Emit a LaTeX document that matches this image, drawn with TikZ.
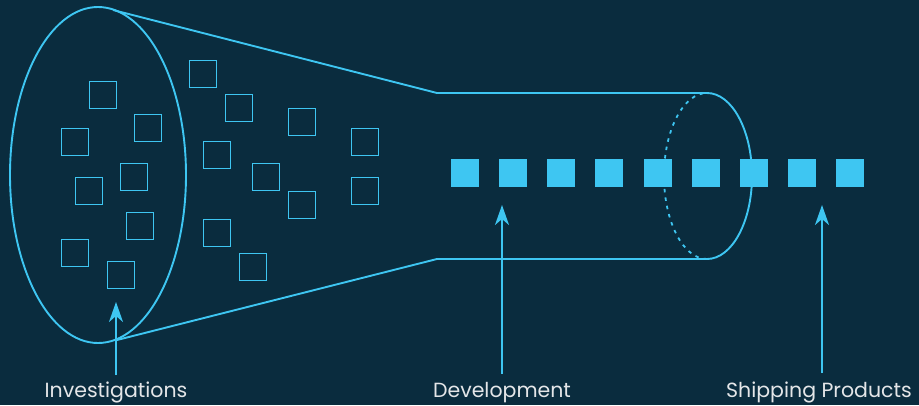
\documentclass[tikz,border=0pt]{standalone}
\usepackage{fontspec}
\setmainfont{Poppins}
\usepackage{tikz}
\usetikzlibrary{arrows.meta, positioning}

\definecolor{bgnavy}{HTML}{0A2C3E}
\definecolor{funcyan}{HTML}{3EC6F2}
\definecolor{labelgray}{HTML}{E4E6E8}

\begin{document}
\begin{tikzpicture}[
    x=1pt, y=-1pt,
    funnel/.style={draw=funcyan, line width=1.9pt},
    idea/.style={rectangle, draw=funcyan, line width=1.8pt, minimum size=27pt, inner sep=0pt},
    item/.style={rectangle, fill=funcyan, minimum size=28pt, inner sep=0pt},
    stage/.style={text=labelgray, font=\fontsize{20.5}{22}\selectfont, inner sep=0pt, anchor=base},
    arrow/.style={draw=funcyan, line width=1.9pt, -{Stealth[length=20pt, width=14pt, inset=6pt]}}
]

% Background
\fill[bgnavy] (0,0) rectangle (919,405);
\useasboundingbox (0,0) rectangle (919,405);

% Funnel
\draw[funnel] (98,175) ellipse [x radius=88, y radius=168];
\draw[funnel] (113,10) -- (437,93) -- (707,93);
\draw[funnel] (117,340) -- (437,259) -- (707,259);
\draw[funnel] (707,93) arc [start angle=-90, end angle=90, x radius=45, y radius=83];
\draw[funnel, line width=1.8pt, dash pattern=on 3.5pt off 5pt] (707,259) arc [start angle=90, end angle=270, x radius=43, y radius=83];

% Investigations
\foreach \x/\y [count=\i] in {103/95, 148/128, 75/142, 134/177, 89/191, 140/226, 75/253, 121/275,
    203/74, 239/108, 302/122, 217/155, 266/177, 302/205, 365/142, 365/191, 217/233, 253/267}
    \node[idea] (idea\i) at (\x,\y) {};

% Products in development
\foreach \x [count=\i] in {465, 513, 561, 609, 658, 706, 754, 802, 850}
    \node[item] (item\i) at (\x,173) {};

% Labels
\node[stage] (invest) at (116,397) {Investigations};
\node[stage] (devel) at (502,397) {Development};
\node[stage] (ship) at (819,397) {Shipping Products};

\coordinate (investtip) at (116,302);
\coordinate (develtip) at (502,205);
\coordinate (shiptip) at (822,205);

% Arrows
\draw[arrow] (invest.north -| investtip) ++(0,-6) -- (investtip);
\draw[arrow] (devel.north -| develtip) ++(0,-8) -- (develtip);
\draw[arrow] (ship.north -| shiptip) ++(0,-8) -- (shiptip);

\end{tikzpicture}
\end{document}
